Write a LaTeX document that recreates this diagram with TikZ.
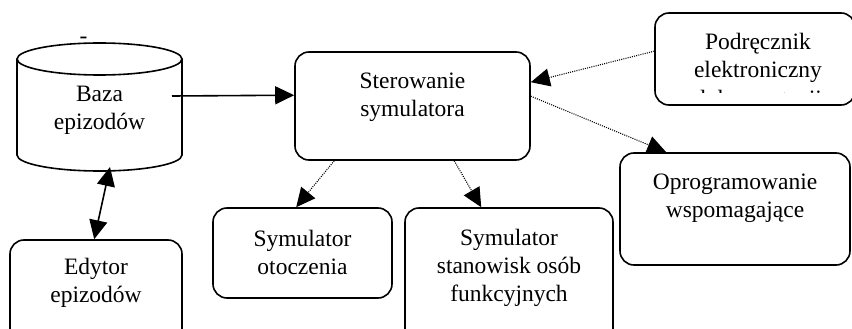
\documentclass[tikz,border=0pt]{standalone}
\usepackage{fontspec}
\setmainfont{Liberation Serif}
\usetikzlibrary{arrows.meta}
\tikzset{
  box/.style={draw, line width=1.6pt, rounded corners=14pt, inner sep=0pt},
  txt/.style={align=center, font=\fontsize{23.5}{28}\selectfont, inner sep=0pt},
  solidarrow/.style={line width=1.6pt, -{Triangle[length=19pt,width=18pt]}},
  dotarrow/.style={line width=1.1pt, dash pattern=on 1pt off 1.2pt, -{Triangle[length=19pt,width=18pt]}},
}
\begin{document}
\begin{tikzpicture}[x=1pt,y=1pt]
\clip (0,0) rectangle (852,-329);
\fill[white] (0,0) rectangle (852,-329);
% cylinder (Baza epizodow)
\draw[line width=1.6pt] (99.5,-59) ellipse [x radius=82.5, y radius=16];
\draw[line width=1.6pt] (17,-59) -- (17,-155) arc[start angle=180, end angle=360, x radius=82.5, y radius=16] -- (182,-59);
\node[txt] (baza) at (99.5,-110) {Baza\\epizodów};
\node[txt] (dash) at (83.5,-40) {-};
\coordinate (bazaout) at (172,-96);
\coordinate (bazabot) at (110,-167);
% boxes
\node[box, minimum width=235pt, minimum height=108pt] (ster) at (412.5,-106) {};
\node[txt] (stert) at (412.5,-97) {Sterowanie\\symulatora};
\node[box, minimum width=200pt, minimum height=92pt] (pod) at (755,-59) {};
\node[txt] (podt) at (758,-58) {Podręcznik\\elektroniczny};
\begin{scope}
\clip (656,-86) rectangle (850,-92.5);
\node[txt, anchor=base] (podt3) at (758,-106.5) {dokumentacji};
\end{scope}
\node[box, minimum width=230pt, minimum height=112pt] (opr) at (735,-209) {};
\node[txt] (oprt) at (735,-198) {Oprogramowanie\\wspomagające};
\node[box, minimum width=179pt, minimum height=90pt] (symot) at (302.5,-253) {};
\node[txt] (symott) at (302.5,-252) {Symulator\\otoczenia};
\node[box, minimum width=208pt, minimum height=135pt] (symst) at (509,-275.5) {};
\node[txt] (symstt) at (509,-268) {Symulator\\stanowisk osób\\funkcyjnych};
\node[box, minimum width=172pt, minimum height=110pt] (edy) at (96,-295) {};
\node[txt] (edyt) at (96,-283) {Edytor\\epizodów};
% connectors
\draw[solidarrow] (bazaout) -- ([yshift=-44pt]ster.north west);
\draw[line width=1.6pt, {Triangle[length=19pt,width=18pt]}-{Triangle[length=19pt,width=18pt]}] (bazabot) -- ([xshift=85pt]edy.north west);
\draw[dotarrow] ([yshift=-39pt]pod.north west) -- ([yshift=-31pt]ster.north east);
\draw[dotarrow] ([yshift=-45pt]ster.north east) -- ([xshift=47pt]opr.north west);
\draw[dotarrow] ([xshift=40pt]ster.south west) -- ([xshift=84pt]symot.north west);
\draw[dotarrow] ([xshift=160pt]ster.south west) -- ([xshift=77pt]symst.north west);
\end{tikzpicture}
\end{document}
